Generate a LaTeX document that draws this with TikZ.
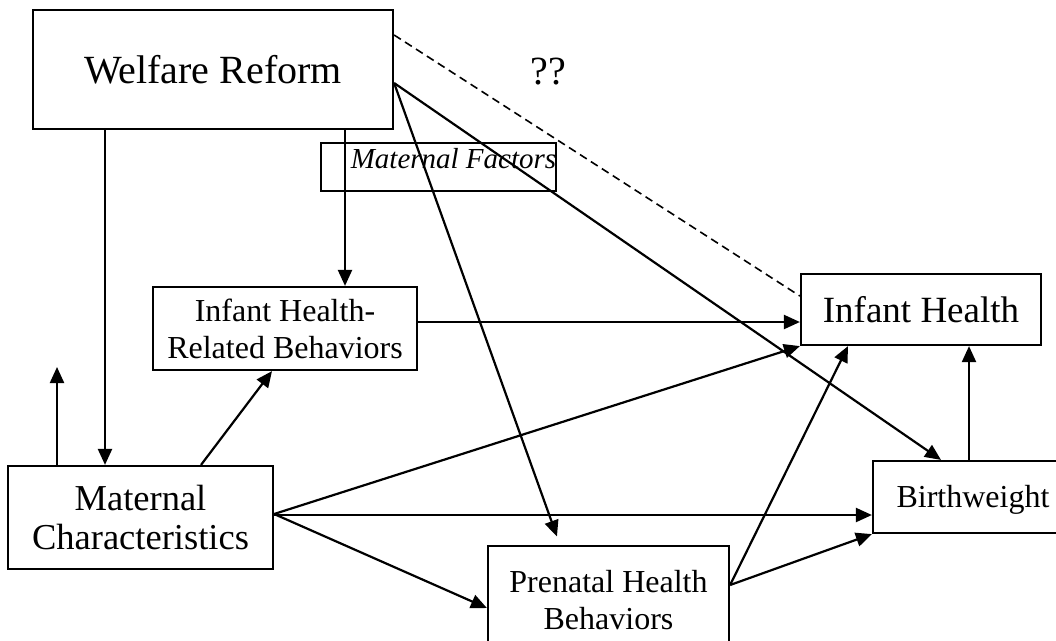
\documentclass[tikz,border=0pt]{standalone}
\usepackage{fontspec}
\setmainfont{Liberation Serif}
\usetikzlibrary{arrows.meta}
\begin{document}
\begin{tikzpicture}[x=1pt,y=-1pt,
  box/.style={draw, line width=2.2pt, inner sep=0pt, align=center},
  link/.style={line width=2.2pt, -{Triangle[length=16pt,width=14pt]}},
  maybe/.style={line width=1.6pt, dash pattern=on 8pt off 5pt}]
\useasboundingbox (0,0) rectangle (1056,640);
\clip (0,0) rectangle (1056,640);

% boxes
\node[box, minimum width=360pt, minimum height=119pt,
      font=\fontsize{40}{46}\selectfont] (wr) at (213,69.5) {Welfare Reform};
\node[inner sep=0pt, font=\fontsize{40}{46}\selectfont] (qq) at (548,72) {??};
\node[box, minimum width=235pt, text height=23pt, text depth=21pt,
      inner ysep=2pt, font=\fontsize{29}{34}\selectfont\itshape]
      (mf) at (438.5,167) {\hspace*{30pt}Maternal Factors};
\node[box, minimum width=264pt, minimum height=83pt,
      font=\fontsize{32}{37}\selectfont] (ihrb) at (285,328.5)
      {Infant Health-\\Related Behaviors};
\node[box, minimum width=265pt, minimum height=103pt,
      font=\fontsize{36.5}{38.5}\selectfont] (mc) at (140.5,517.5)
      {Maternal\\Characteristics};
\node[box, minimum width=240pt, minimum height=71pt,
      font=\fontsize{37}{42}\selectfont] (ih) at (921,309.5) {Infant Health};
\node[box, minimum width=200pt, minimum height=72pt, text height=24pt,
      text depth=3pt, font=\fontsize{32}{37}\selectfont] (bw) at (973,497)
      {Birthweight};
\node[box, minimum width=241pt, minimum height=109pt,
      font=\fontsize{32}{37}\selectfont] (pre) at (608.5,600.5)
      {Prenatal Health\\Behaviors};
\coordinate (up) at (57,367);

% connectors from Welfare Reform
\draw[link] ([xshift=-108pt]wr.south) -- ([xshift=-35.5pt]mc.north);
\draw[link] ([xshift=132pt]wr.south) -- ([xshift=60pt]ihrb.north);
\draw[link, shorten >=9pt] ([yshift=-13.5pt]wr.east) -- ([xshift=-48.5pt]pre.north);
\draw[link] ([yshift=-13.5pt]wr.east) -- ([xshift=-32pt]bw.north);
\draw[maybe] ([yshift=34.5pt]wr.east) -- ([yshift=13.5pt]ih.west);

% connectors from Maternal Characteristics
\draw[link] ([xshift=-83.5pt]mc.north) -- (up);
\draw[link] ([xshift=60.5pt]mc.north) -- ([xshift=-13pt]ihrb.south);
\draw[link] ([yshift=3.5pt]mc.east) -- (ih.south west);
\draw[link] ([yshift=2.5pt]mc.east) -- ([yshift=-18pt]bw.west);
\draw[link] ([yshift=3.5pt]mc.east) -- ([yshift=-7.5pt]pre.west);

% remaining paths
\draw[link] ([yshift=6.5pt]ihrb.east) -- ([yshift=-12.5pt]ih.west);
\draw[link] ([yshift=15.5pt]pre.east) -- ([xshift=-73pt]ih.south);
\draw[link] ([yshift=15.5pt]pre.east) -- (bw.south west);
\draw[link] ([xshift=-4pt]bw.north) -- ([xshift=48pt]ih.south);
\end{tikzpicture}
\end{document}
